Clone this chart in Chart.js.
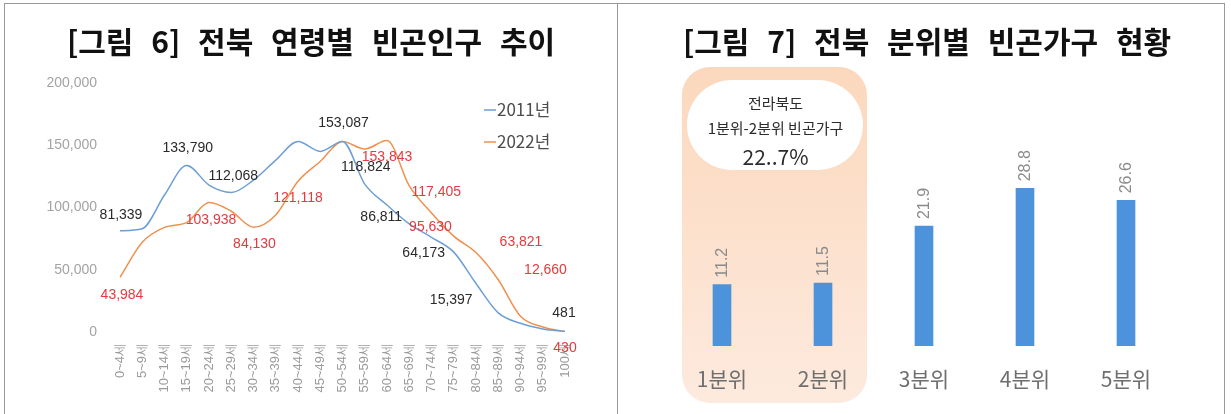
<!DOCTYPE html>
<html>
<head>
<meta charset="utf-8">
<script src="https://cdn.jsdelivr.net/npm/chart.js@4.4.1/dist/chart.umd.min.js"></script>
<style>
  body { margin:0; width:1231px; height:414px; background:#fff; overflow:hidden; position:relative;
         font-family:"Noto Sans CJK KR", sans-serif; }
  .frame { position:absolute; left:4px; top:3px; width:1221px; height:430px; border:1px solid #999; box-sizing:border-box; }
  .divider { position:absolute; left:617px; top:3px; width:1px; height:430px; background:#999; }
  .title { position:absolute; top:18px; font-weight:bold; font-size:30px; line-height:44px; color:#111;
           white-space:nowrap; word-spacing:11px; transform:translateX(-50%); }
  #c1 { position:absolute; left:0; top:0; }
  #c2 { position:absolute; left:618px; top:0; }
</style>
</head>
<body>
<div class="frame"></div>
<div class="divider"></div>
<canvas id="c1" width="617" height="414"></canvas>
<canvas id="c2" width="613" height="414"></canvas>
<div class="title" style="left:311px">[그림 6] 전북 연령별 빈곤인구 추이</div>
<div class="title" style="left:927px">[그림 7] 전북 분위별 빈곤가구 현황</div>

<script>
// ---- data: figure 6 ----
const ageLabels = ['0~4세','5~9세','10~14세','15~19세','20~24세','25~29세','30~34세','35~39세',
  '40~44세','45~49세','50~54세','55~59세','60~64세','65~69세','70~74세','75~79세','80~84세',
  '85~89세','90~94세','95~99세','100세'];
const pop2011 = [81339, 83000, 110000, 133790, 118000, 112068, 122000, 138000, 153000, 145000, 153087,
  118824, 102000, 86811, 76000, 64173, 39000, 15397, 7000, 2500, 481];
const pop2022 = [43984, 72000, 84000, 88000, 103938, 97000, 84130, 94000, 121118, 137000, 153000,
  147000, 153843, 117405, 95630, 77000, 63821, 42000, 12660, 4000, 430];
const yTicks = [0, 50000, 100000, 150000, 200000];
const seriesNames = ['2011년', '2022년'];
// which points carry a value label
const labelIdx2011 = [0, 3, 5, 10, 11, 13, 15, 17, 20];
const labelIdx2022 = [0, 4, 6, 8, 12, 13, 14, 16, 18, 20];

// ---- data: figure 7 ----
const quintiles = ['1분위', '2분위', '3분위', '4분위', '5분위'];
const householdShare = [11.2, 11.5, 21.9, 28.8, 26.6];
const bubbleText = ['전라북도', '1분위-2분위 빈곤가구', '22..7%'];

// label offsets (pixels) relative to the point
const offs2011 = [[1,-16],[1,-17],[2,-16],[1,-18],[1,-17],[-28,-7],[-30,1],[-47,-13],[-1,-18]];
const offs2022 = [[2,18],[2,18],[1,17],[0,17],[0,17],[27,6],[-1,14],[45,-10],[25,-46],[0,17]];

const numFont = "'Liberation Sans', Arial, sans-serif";
const krFont = "'Noto Sans CJK KR', sans-serif";
const fmt = v => v.toLocaleString('en-US');

const lineLabels = {
  id: 'lineLabels',
  afterDatasetsDraw(chart) {
    const ctx = chart.ctx;
    const xs = chart.scales.x, ys = chart.scales.y;
    const sets = [
      { data: pop2011, idx: labelIdx2011, offs: offs2011, color: '#2a2a2a' },
      { data: pop2022, idx: labelIdx2022, offs: offs2022, color: '#e53a3f' }
    ];
    ctx.save();
    ctx.font = '14px ' + numFont;
    ctx.textAlign = 'center';
    ctx.textBaseline = 'middle';
    sets.forEach(s => {
      ctx.fillStyle = s.color;
      s.idx.forEach((i, k) => {
        const x = xs.getPixelForValue(i) + s.offs[k][0];
        const y = ys.getPixelForValue(s.data[i]) + s.offs[k][1];
        ctx.fillText(fmt(s.data[i]), x, y);
      });
    });
    // legend
    ctx.font = '17px ' + krFont;
    ctx.textAlign = 'left';
    chart.data.datasets.forEach((ds, k) => {
      const y = 110 + k * 32;
      ctx.strokeStyle = ds.borderColor;
      ctx.lineWidth = 1.5;
      ctx.beginPath(); ctx.moveTo(484, y); ctx.lineTo(496, y); ctx.stroke();
      ctx.fillStyle = '#4d4d4d';
      ctx.fillText(ds.label, 497, y);
    });
    ctx.restore();
  }
};

new Chart(document.getElementById('c1'), {
  type: 'line',
  data: {
    labels: ageLabels,
    datasets: [
      { label: seriesNames[0], data: pop2011, borderColor: '#6d9fd6', borderWidth: 1.5,
        pointRadius: 0, cubicInterpolationMode: 'monotone', fill: false },
      { label: seriesNames[1], data: pop2022, borderColor: '#f0904f', borderWidth: 1.5,
        pointRadius: 0, cubicInterpolationMode: 'monotone', fill: false }
    ]
  },
  options: {
    responsive: false, animation: false,
    layout: { padding: { top: 83, right: 52, left: 0, bottom: 0 } },
    plugins: { legend: { display: false }, tooltip: { enabled: false } },
    scales: {
      x: {
        offset: false,
        grid: { display: false, drawTicks: false }, border: { display: false },
        ticks: { autoSkip: false, minRotation: 90, maxRotation: 90, padding: 11,
                 color: '#9a9a9a', font: { size: 13, family: numFont } },
        afterFit: s => { s.height = 82; }
      },
      y: {
        min: 0, max: 200000,
        grid: { display: false, drawTicks: false }, border: { display: false },
        afterBuildTicks: s => { s.ticks = yTicks.map(v => ({ value: v })); },
        ticks: { padding: 23, color: '#a3a3a3', font: { size: 14, family: numFont },
                 callback: v => fmt(v) },
        afterFit: s => { s.width = 120; }
      }
    }
  },
  plugins: [lineLabels]
});

const barDeco = {
  id: 'barDeco',
  beforeDraw(chart) {
    const ctx = chart.ctx;
    const xs = chart.scales.x;
    const left = xs.getPixelForValue(0) - 40, right = xs.getPixelForValue(1) + 44;
    const top = 67, bottom = 403;
    ctx.save();
    const g = ctx.createLinearGradient(0, top, 0, bottom);
    g.addColorStop(0, '#fbd8bd');
    g.addColorStop(1, '#fdeade');
    ctx.fillStyle = g;
    ctx.beginPath(); ctx.roundRect(left, top, right - left, bottom - top, 28); ctx.fill();
    // speech bubble
    ctx.fillStyle = '#fff';
    ctx.beginPath(); ctx.roundRect(left + 5, 80, right - left - 9, 90, 45); ctx.fill();
    const cx = (left + right) / 2 + 1;
    ctx.fillStyle = '#2b2b2b';
    ctx.textAlign = 'center'; ctx.textBaseline = 'middle';
    ctx.font = '15px ' + krFont;
    ctx.fillText(bubbleText[0], cx, 103);
    ctx.fillText(bubbleText[1], cx, 128);
    ctx.font = '21px ' + krFont;
    ctx.fillText(bubbleText[2], cx, 157);
    ctx.restore();
  },
  afterDatasetsDraw(chart) {
    const ctx = chart.ctx;
    const meta = chart.getDatasetMeta(0);
    ctx.save();
    ctx.fillStyle = '#8a8a8a';
    ctx.font = '16px ' + numFont;
    ctx.textAlign = 'left'; ctx.textBaseline = 'middle';
    meta.data.forEach((bar, i) => {
      ctx.save();
      ctx.translate(bar.x + 1, bar.y - 7);
      ctx.rotate(-Math.PI / 2);
      ctx.fillText(householdShare[i].toFixed(1), 0, 0);
      ctx.restore();
    });
    ctx.restore();
  }
};

new Chart(document.getElementById('c2'), {
  type: 'bar',
  data: {
    labels: quintiles,
    datasets: [{ data: householdShare, backgroundColor: '#4d93db', barThickness: 18 }]
  },
  options: {
    responsive: false, animation: false,
    layout: { padding: { top: 127, left: 53.5, right: 54.5, bottom: 0 } },
    plugins: { legend: { display: false }, tooltip: { enabled: false } },
    scales: {
      x: {
        grid: { display: false, drawTicks: false }, border: { display: false },
        ticks: { padding: 20, color: '#6e6e6e', font: { size: 21, family: krFont } },
        afterFit: s => { s.height = 68; }
      },
      y: { display: false, min: 0, max: 40 }
    }
  },
  plugins: [barDeco]
});
</script>
</body>
</html>
